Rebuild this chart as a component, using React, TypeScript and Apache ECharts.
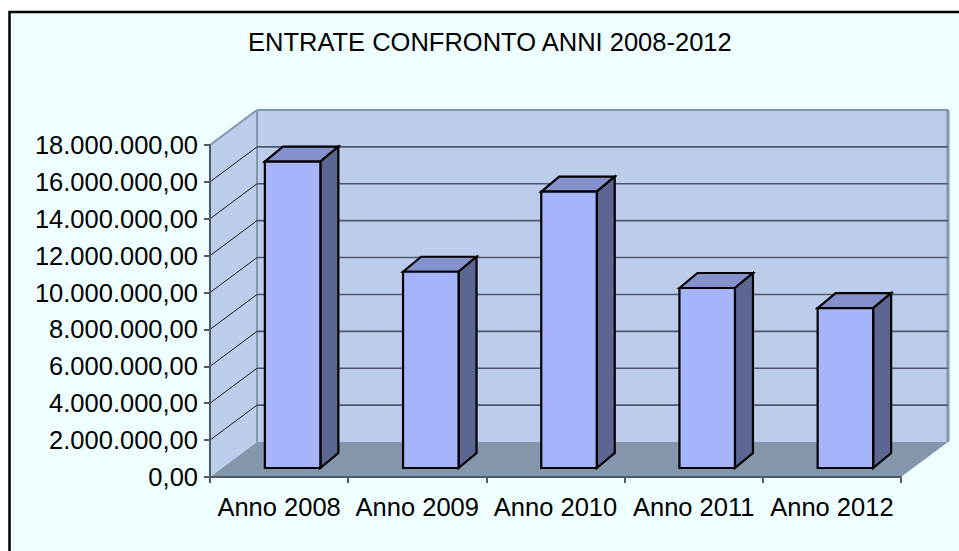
import React, { useEffect, useRef } from "react";
import * as echarts from "echarts";

const categories = ["Anno 2008", "Anno 2009", "Anno 2010", "Anno 2011", "Anno 2012"];
const entrate = [16610000, 10640000, 14980000, 9760000, 8670000];
const yTickValues = [0, 2000000, 4000000, 6000000, 8000000, 10000000, 12000000, 14000000, 16000000, 18000000];
const yTickLabels = [
  "0,00", "2.000.000,00", "4.000.000,00", "6.000.000,00", "8.000.000,00",
  "10.000.000,00", "12.000.000,00", "14.000.000,00", "16.000.000,00", "18.000.000,00",
];
const title = "ENTRATE CONFRONTO ANNI 2008-2012";

const FONT = '"Liberation Sans", Arial, sans-serif';
const DX = 47; // chart depth
const DY = 35;
const EDGE = "#8496AB";

const renderWalls = (params: any, api: any) => {
  const g = params.coordSys;
  const x0 = g.x, x1 = g.x + g.width, y0 = g.y, y1 = g.y + g.height;
  const poly = (points: number[][], fill: string) => ({
    type: "polygon", shape: { points }, style: { fill, stroke: "none" },
  });
  const line = (a: number[], b: number[], stroke: string, lineWidth: number) => ({
    type: "line",
    shape: { x1: a[0], y1: a[1], x2: b[0], y2: b[1] },
    style: { stroke, lineWidth },
  });
  return {
    type: "group",
    children: [
      poly([[x0 + DX, y0 - DY], [x1 + DX, y0 - DY], [x1 + DX, y1 - DY], [x0 + DX, y1 - DY]], "#BBCDEB"),
      poly([[x0, y0], [x0 + DX, y0 - DY], [x0 + DX, y1 - DY], [x0, y1]], "#BBCDEB"),
      poly([[x0, y1], [x0 + DX, y1 - DY], [x1 + DX, y1 - DY], [x1, y1]], EDGE),
      line([x0, y0], [x0 + DX, y0 - DY], EDGE, 2),
      line([x0 + DX, y0 - DY], [x1 + DX, y0 - DY], EDGE, 2),
      line([x0 + DX, y0 - DY], [x0 + DX, y1 - DY], EDGE, 2),
      line([x1 + DX, y0 - DY], [x1 + DX, y1 - DY], EDGE, 3),
    ],
  };
};

const renderGridLine = (params: any, api: any) => {
  const g = params.coordSys;
  const v = api.value(1);
  const y = api.coord([0, v])[1];
  return {
    type: "group",
    children: [
      {
        type: "line",
        shape: { x1: g.x, y1: y, x2: g.x + DX, y2: y - DY },
        style: { stroke: "#1a1a1a", lineWidth: 1 },
      },
      {
        type: "line",
        shape: { x1: g.x + DX, y1: y - DY, x2: g.x + g.width + DX, y2: y - DY },
        style: { stroke: "#4F5770", lineWidth: 1.6 },
      },
    ],
  };
};

const renderBar = (params: any, api: any) => {
  const p = api.coord([api.value(0), api.value(1)]);
  const base = api.coord([api.value(0), 0]);
  const w = 55.5, ox = 13.5, oy = 9, dx = 18, dy = 15;
  const l = p[0] + ox - w / 2, r = l + w;
  const top = p[1] - oy, bottom = base[1] - oy;
  const style = (fill: string) => ({ fill, stroke: "#000", lineWidth: 2.2, lineJoin: "miter" });
  return {
    type: "group",
    children: [
      { type: "polygon", shape: { points: [[l, top], [l + dx, top - dy], [r + dx, top - dy], [r, top]] }, style: style("#8491CC") },
      { type: "polygon", shape: { points: [[r, top], [r + dx, top - dy], [r + dx, bottom - dy], [r, bottom]] }, style: style("#5C6693") },
      { type: "polygon", shape: { points: [[l, top], [r, top], [r, bottom], [l, bottom]] }, style: style("#A6B4FC") },
    ],
  };
};

export default function App() {
  const ref = useRef<HTMLDivElement>(null);
  useEffect(() => {
    const chart = echarts.init(ref.current!, undefined, { renderer: "svg" });
    const axisStyle = { lineStyle: { color: "#4F5A68", width: 2 } };
    chart.setOption({
      animation: false,
      backgroundColor: "#fff",
      title: {
        text: title,
        left: 243,
        top: 24,
        textStyle: { fontFamily: FONT, fontSize: 25.5, fontWeight: "normal", color: "#000" },
      },
      graphic: [
        {
          type: "rect",
          z: -10,
          shape: { x: 9.5, y: 12, width: 1100, height: 1100 },
          style: { fill: "#EFFFFF", stroke: "#000", lineWidth: 2.5 },
        },
      ],
      grid: { left: 210, right: 58, top: 145, bottom: 74 },
      xAxis: {
        type: "category",
        data: categories,
        z: 6,
        axisLine: { show: true, ...axisStyle },
        axisTick: { show: true, alignWithLabel: false, length: 6, ...axisStyle },
        axisLabel: { interval: 0, fontFamily: FONT, fontSize: 25.5, color: "#000", margin: 17, hideOverlap: false },
      },
      yAxis: {
        type: "value",
        min: 0,
        max: 18000000,
        interval: 2000000,
        z: 6,
        splitLine: { show: false },
        axisLine: { show: true, ...axisStyle },
        axisTick: { show: true, length: 6, ...axisStyle },
        axisLabel: {
          fontFamily: FONT,
          fontSize: 25.5,
          color: "#000",
          margin: 12,
          formatter: (v: number) => yTickLabels[yTickValues.indexOf(v)],
        },
      },
      series: [
        { type: "custom", z: 1, silent: true, data: [[0, 0]], encode: { x: 0, y: 1 }, renderItem: renderWalls },
        {
          type: "custom",
          z: 2,
          silent: true,
          data: yTickValues.slice(1, -1).map((v) => [0, v]),
          encode: { x: 0, y: 1 },
          renderItem: renderGridLine,
        },
        {
          type: "custom",
          name: "Entrate",
          z: 3,
          data: entrate.map((v, i) => [i, v]),
          encode: { x: 0, y: 1 },
          renderItem: renderBar,
        },
      ],
    });
    return () => chart.dispose();
  }, []);
  return <div ref={ref} style={{ position: "fixed", left: 0, top: 0, width: 959, height: 551 }} />;
}
